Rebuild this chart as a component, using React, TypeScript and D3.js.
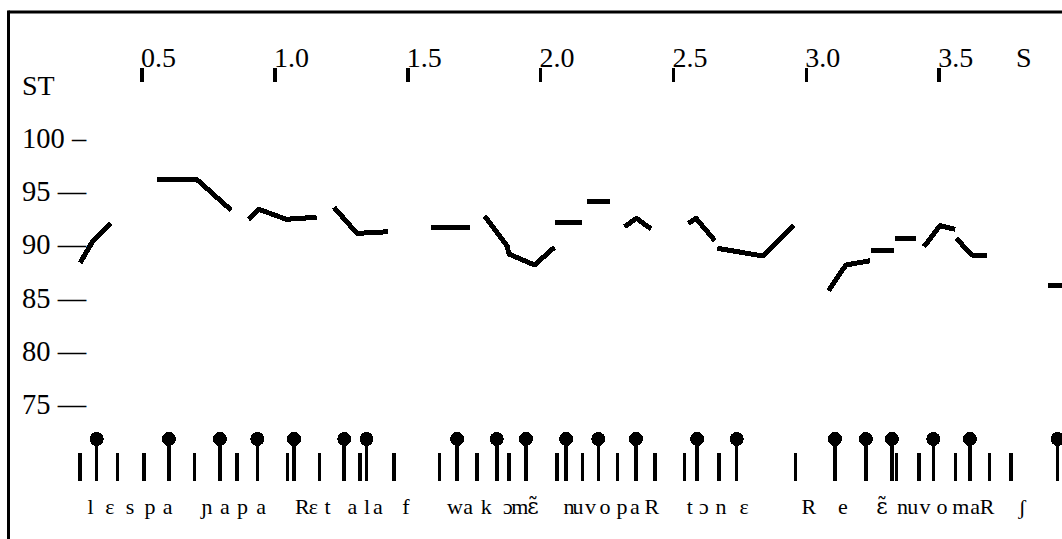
import React from "react";
import * as d3 from "d3";

// ---- data ----
const timeTicks = [0.5, 1.0, 1.5, 2.0, 2.5, 3.0, 3.5];
const timeTickLabels = ["0.5", "1.0", "1.5", "2.0", "2.5", "3.0", "3.5"];
const stTicks = [100, 95, 90, 85, 80, 75];
const stTickLabels = ["100 \u2013", "95 \u2014", "90 \u2014", "85 \u2014", "80 \u2014", "75 \u2014"];

// stylized pitch contour (time s, semitones)
const seg01: [number, number][] = [[0.267, 88.55], [0.315, 90.6], [0.381, 92.25]];
const seg02: [number, number][] = [[0.556, 96.39], [0.705, 96.39], [0.835, 93.5]];
const seg03: [number, number][] = [[0.9, 92.63], [0.939, 93.57], [1.043, 92.63], [1.157, 92.82]];
const seg04: [number, number][] = [[1.222, 93.76], [1.309, 91.31], [1.426, 91.46]];
const seg05: [number, number][] = [[1.588, 91.88], [1.733, 91.88]];
const seg06: [number, number][] = [[1.789, 92.94], [1.874, 90.12], [1.881, 89.37], [1.977, 88.34], [2.052, 90.0]];
const seg07: [number, number][] = [[2.055, 92.35], [2.154, 92.35]];
const seg08: [number, number][] = [[2.175, 94.32], [2.262, 94.32]];
const seg09: [number, number][] = [[2.316, 91.93], [2.361, 92.72], [2.416, 91.72]];
const seg10: [number, number][] = [[2.556, 92.25], [2.585, 92.72], [2.656, 90.62]];
const seg11: [number, number][] = [[2.665, 89.91], [2.837, 89.18], [2.952, 92.09]];
const seg12: [number, number][] = [[3.084, 85.92], [3.149, 88.34], [3.24, 88.74]];
const seg13: [number, number][] = [[3.244, 89.68], [3.331, 89.68]];
const seg14: [number, number][] = [[3.335, 90.85], [3.413, 90.85]];
const seg15: [number, number][] = [[3.443, 90.06], [3.503, 92.03], [3.56, 91.69]];
const seg16: [number, number][] = [[3.564, 90.85], [3.623, 89.28], [3.681, 89.18]];
const seg17: [number, number][] = [[3.908, 86.46], [3.98, 86.46]];
const contourSegments = [seg01, seg02, seg03, seg04, seg05, seg06, seg07, seg08, seg09,
  seg10, seg11, seg12, seg13, seg14, seg15, seg16, seg17];

// segment boundaries (short ticks) and syllable nuclei (lollipops)
const boundaryTimes = [0.266, 0.407, 0.507, 0.697, 0.858, 1.047, 1.167, 1.32, 1.449, 1.619,
  1.76, 1.881, 2.061, 2.157, 2.29, 2.431, 2.541, 2.671, 2.96, 3.34, 3.425, 3.561, 3.689, 3.77];
const nucleusTimes = [0.329, 0.601, 0.793, 0.934, 1.072, 1.261, 1.345, 1.686, 1.835, 1.945,
  2.096, 2.217, 2.359, 2.589, 2.738, 3.108, 3.224, 3.322, 3.478, 3.616, 3.946];

// phonetic transcription
const phones = ["l", "ɛ", "s", "p", "a", "ɲ", "a", "p", "a", "R", "ɛ", "t", "a", "l", "a", "f",
  "w", "a", "k", "ɔ", "m", "ɛ̃", "n", "u", "v", "o", "p", "a", "R", "t", "ɔ", "n", "ɛ",
  "R", "e", "ɛ̃", "n", "u", "v", "o", "m", "a", "R", "ʃ"];
const phoneTimes = [0.306, 0.379, 0.455, 0.53, 0.596, 0.744, 0.812, 0.878, 0.948, 1.103, 1.145,
  1.198, 1.292, 1.347, 1.388, 1.493, 1.678, 1.727, 1.795, 1.877, 1.922, 1.971, 2.107, 2.141,
  2.188, 2.242, 2.306, 2.355, 2.419, 2.562, 2.615, 2.679, 2.766, 3.01, 3.138, 3.285, 3.362,
  3.401, 3.447, 3.511, 3.582, 3.635, 3.68, 3.812];

const W = 1062;
const H = 539;
const FONT = "'Liberation Serif', 'Times New Roman', serif";

export default function App() {
  const x = d3.scaleLinear().domain([0, 4]).range([9.2, 9.2 + 4 * 265.7]);
  const y = d3.scaleLinear().domain([75, 100]).range([407.05, 140.8]);
  const line = d3.line<[number, number]>().x((d) => x(d[0])).y((d) => y(d[1]));

  const tickTop = 68;
  const tickBottom = 82;
  const markBottom = 481;
  const shortTop = 453;
  const dotY = 439;

  return (
    <div style={{ position: "fixed", left: 0, top: 0, width: W, height: H, overflow: "hidden", background: "#fff" }}>
      <svg width={W} height={H} style={{ display: "block" }} fontFamily={FONT}>
        <rect x={0} y={0} width={W} height={H} fill="#fff" />
        {/* frame */}
        <line x1={8.5} y1={12} x2={W + 5} y2={12} stroke="#000" strokeWidth={3} />
        <line x1={8.5} y1={10.5} x2={8.5} y2={H + 5} stroke="#000" strokeWidth={3} />

        {/* time axis */}
        {timeTicks.map((t, i) => (
          <g key={"tt" + i}>
            <line x1={x(t)} x2={x(t)} y1={tickTop} y2={tickBottom} stroke="#000" strokeWidth={3.5} shapeRendering="crispEdges" />
            <text x={x(t) - 1} y={67} fontSize={28} fill="#000">{timeTickLabels[i]}</text>
          </g>
        ))}
        <text x={1016} y={67} fontSize={28} fill="#000">S</text>

        {/* semitone axis */}
        <text x={22} y={95} fontSize={28} fill="#000">ST</text>
        {stTicks.map((v, i) => (
          <text key={"st" + i} x={22} y={y(v) + 7} fontSize={28.5} fill="#000">{stTickLabels[i]}</text>
        ))}

        {/* stylized contour */}
        {contourSegments.map((s, i) => (
          <path key={"c" + i} d={line(s) || ""} fill="none" stroke="#000" strokeWidth={5}
            strokeLinejoin="round" shapeRendering="crispEdges" />
        ))}

        {/* boundaries */}
        {boundaryTimes.map((t, i) => (
          <line key={"b" + i} x1={x(t)} x2={x(t)} y1={shortTop} y2={markBottom} stroke="#000" strokeWidth={3.5} shapeRendering="crispEdges" />
        ))}
        {/* nuclei */}
        {nucleusTimes.map((t, i) => (
          <g key={"n" + i}>
            <line x1={x(t)} x2={x(t)} y1={dotY} y2={markBottom} stroke="#000" strokeWidth={3.5} shapeRendering="crispEdges" />
            <circle cx={x(t)} cy={dotY} r={7} fill="#000" shapeRendering="crispEdges" />
          </g>
        ))}

        {/* phones */}
        {phones.map((p, i) => (
          <text key={"p" + i} x={x(phoneTimes[i])} y={514} fontSize={22} textAnchor="middle" fill="#000"
            fontFamily={p.length > 1 ? "'DejaVu Serif', serif" : undefined}>{p}</text>
        ))}
      </svg>
    </div>
  );
}
